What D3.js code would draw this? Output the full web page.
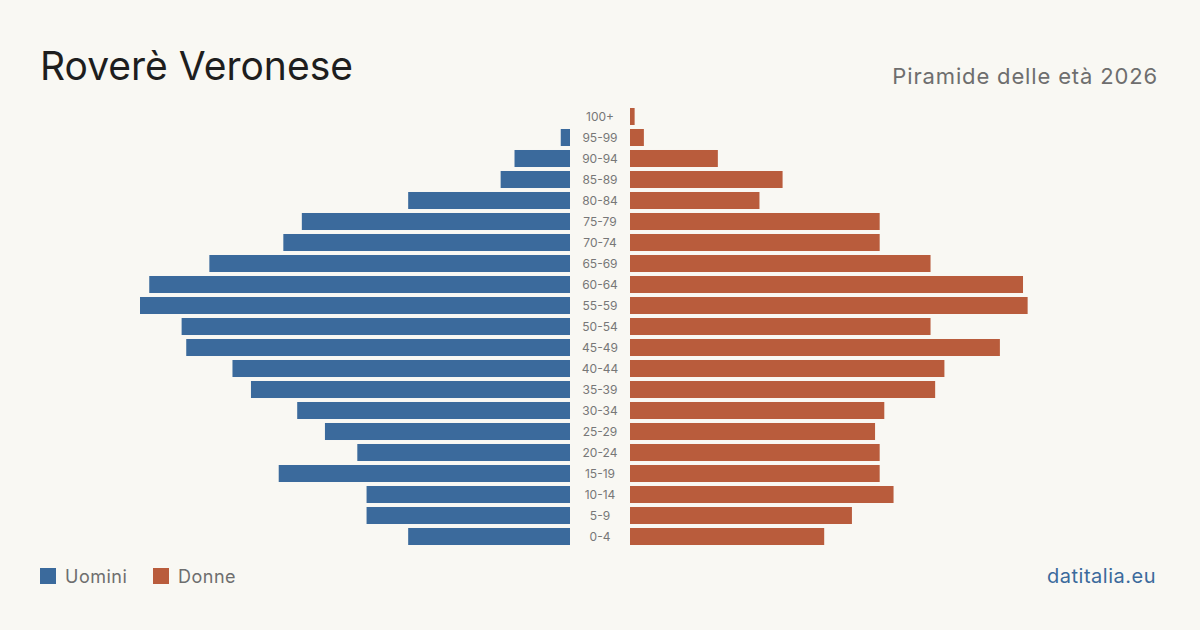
<!DOCTYPE html>
<html><head><meta charset="utf-8">
<script src="https://cdn.jsdelivr.net/npm/d3@7"></script>
<style>
html,body{margin:0;padding:0;background:#f9f8f3;}
svg{display:block;font-family:Inter, "Noto Sans", sans-serif;}
</style></head>
<body>
<svg id="c" width="1200" height="630"></svg>
<script>
const ageGroups = ["100+","95-99","90-94","85-89","80-84","75-79","70-74","65-69","60-64","55-59","50-54","45-49","40-44","35-39","30-34","25-29","20-24","15-19","10-14","5-9","0-4"];
const men   = [0, 2, 12, 15, 35, 58, 62, 78, 91, 93, 84, 83, 73, 69, 59, 53, 46, 63, 44, 44, 35];
const women = [1, 3, 19, 33, 28, 54, 54, 65, 85, 86, 65, 80, 68, 66, 55, 53, 54, 54, 57, 48, 42];
const legendLabels = ["Uomini","Donne"];
const colors = {men:"#3b6a9c", women:"#b95c3c"};

const svg = d3.select("#c");
svg.append("rect").attr("width",1200).attr("height",630).attr("fill","#f9f8f3");

const y = d3.scaleBand().domain(ageGroups).range([106,547]).paddingInner(0.19).paddingOuter(0.095);
const maxV = 93;
const xL = d3.scaleLinear().domain([0,maxV]).range([570,140]);
const xR = d3.scaleLinear().domain([0,maxV]).range([630,1060]);

svg.append("g").selectAll("rect").data(ageGroups).join("rect")
  .attr("x",(d,i)=>xL(men[i])).attr("y",d=>y(d))
  .attr("width",(d,i)=>xL(0)-xL(men[i])).attr("height",y.bandwidth())
  .attr("fill",colors.men);
svg.append("g").selectAll("rect").data(ageGroups).join("rect")
  .attr("x",xR(0)).attr("y",d=>y(d))
  .attr("width",(d,i)=>xR(women[i])-xR(0)).attr("height",y.bandwidth())
  .attr("fill",colors.women);

svg.append("g").selectAll("text").data(ageGroups).join("text")
  .attr("x",600).attr("y",d=>y(d)+y.bandwidth()/2)
  .attr("dy","0.35em").attr("text-anchor","middle")
  .attr("font-size",12).attr("fill","#777").text(d=>d);

svg.append("text").attr("x",40).attr("y",80).attr("font-size",39).attr("fill","#1e1e1e").text("Roverè Veronese");
svg.append("text").attr("x",1158).attr("y",84).attr("text-anchor","end").attr("font-size",22).attr("letter-spacing",0.85).attr("fill","#6e6e6e").text("Piramide delle età 2026");

const lg = svg.append("g");
[[40,colors.men,legendLabels[0]],[153,colors.women,legendLabels[1]]].forEach(([x,c,t])=>{
  lg.append("rect").attr("x",x).attr("y",568).attr("width",16).attr("height",16).attr("fill",c);
  lg.append("text").attr("x",x+25).attr("y",583).attr("font-size",18).attr("letter-spacing",0.5).attr("fill","#6e6e6e").text(t);
});
svg.append("text").attr("x",1156).attr("y",583).attr("text-anchor","end").attr("font-size",20).attr("letter-spacing",0.5).attr("fill","#3b6a9c").text("datitalia.eu");
</script>
</body></html>
